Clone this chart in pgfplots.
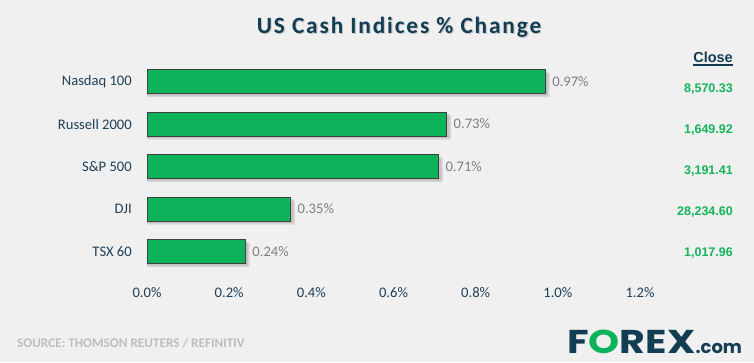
\documentclass[border=0pt]{standalone}
\usepackage{pgfplots}
\pgfplotsset{compat=1.18}
\usepackage{fontspec}
\setmainfont{Carlito}
\newfontfamily\titlefont[LetterSpace=8]{Carlito}
\newfontfamily\arialfont{Liberation Sans}
\newfontfamily\logofont{Poppins}
\definecolor{bg}{HTML}{F0F0F0}
\definecolor{teal}{HTML}{123D52}
\definecolor{labteal}{HTML}{1F4057}
\definecolor{barg}{HTML}{0DB35B}
\definecolor{closeg}{HTML}{14B45A}
\definecolor{valgray}{HTML}{7F7F7F}
\definecolor{srcgray}{HTML}{BDBDBD}
\definecolor{edge}{HTML}{404040}
\pgfplotstableread{
x y
0.97 0
0.73 1
0.71 2
0.35 3
0.24 4
}\bars
\pgfplotstableread{
x y
0.976 0
0.736 1
0.716 2
0.356 3
0.246 4
}\shadowA
\pgfplotstableread{
x y
0.980 0
0.740 1
0.720 2
0.360 3
0.250 4
}\shadowB
\begin{document}
\begin{tikzpicture}[x=1pt,y=1pt]
\fill[bg] (0,0) rectangle (754,362);
% title with soft shadow
\node[text=black!35, opacity=0.5] at (400.2,333.8) {\titlefont\fontsize{23.3}{28}\selectfont\bfseries US Cash Indices \% Change};
\node[text=teal] at (399,335) {\titlefont\fontsize{23.3}{28}\selectfont\bfseries US Cash Indices \% Change};
\begin{axis}[
  at={(147pt,89.25pt)}, anchor=south west,
  scale only axis, width=493pt, height=212.5pt,
  xmin=0, xmax=1.2, ymin=-0.5, ymax=4.5,
  y dir=reverse,
  xbar, bar width=24pt,
  axis line style={draw=none},
  major tick length=0pt,
  clip=false,
  xtick={0,0.2,0.4,0.6,0.8,1.0,1.2},
  xticklabels={0.0\%,0.2\%,0.4\%,0.6\%,0.8\%,1.0\%,1.2\%},
  xticklabel style={anchor=center, yshift=-20.25pt, text=labteal, font=\fontsize{14.6}{17}\selectfont},
  ytick={0,1,2,3,4},
  yticklabels={Nasdaq 100, Russell 2000, S\&P 500, DJI, TSX 60},
  yticklabel style={anchor=east, inner sep=0pt, xshift=-15pt, text=labteal, font=\fontsize{14.6}{17}\selectfont},
]
\addplot[fill=black, draw=none, fill opacity=0.10, bar shift=-2pt] table[x=x,y=y] {\shadowA};
\addplot[fill=black, draw=none, fill opacity=0.10, bar shift=-3.5pt] table[x=x,y=y] {\shadowB};
\addplot[fill=barg, draw=edge, line width=1pt, bar shift=0pt,
  point meta=x,
  nodes near coords={\pgfmathprintnumber[fixed,fixed zerofill,precision=2]{\pgfplotspointmeta}\%},
  nodes near coords align={horizontal},
  every node near coord/.append style={text=valgray, font=\fontsize{14.6}{17}\selectfont, anchor=west, xshift=3pt, /pgf/number format/assume math mode=true},
  ] table[x=x,y=y] {\bars};
\end{axis}
% Close column
\node[anchor=south east, inner sep=0pt, text=teal] (cl) at (733,299) {\arialfont\bfseries\fontsize{14.5}{17}\selectfont Close};
\draw[teal, line width=1.8pt] ([yshift=-2pt]cl.south west) -- ([yshift=-2pt]cl.south east);
\node[anchor=east, inner sep=0pt, text=closeg] at (733,273) {\arialfont\bfseries\fontsize{12.5}{15}\selectfont 8,570.33};
\node[anchor=east, inner sep=0pt, text=closeg] at (733,232) {\arialfont\bfseries\fontsize{12.5}{15}\selectfont 1,649.92};
\node[anchor=east, inner sep=0pt, text=closeg] at (733,191) {\arialfont\bfseries\fontsize{12.5}{15}\selectfont 3,191.41};
\node[anchor=east, inner sep=0pt, text=closeg] at (733,150) {\arialfont\bfseries\fontsize{12.5}{15}\selectfont 28,234.60};
\node[anchor=east, inner sep=0pt, text=closeg] at (733,109) {\arialfont\bfseries\fontsize{12.5}{15}\selectfont 1,017.96};
% source
\node[anchor=west, inner sep=0pt, text=srcgray] at (17,19) {\bfseries\fontsize{13.2}{15}\selectfont SOURCE: THOMSON REUTERS / REFINITIV};
% logo
\node[anchor=base west, inner sep=0pt] at (567,9) {\logofont\bfseries\fontsize{33}{38}\selectfont\scalebox{1.2}[1]{\textcolor{teal}{F}\textcolor{barg}{O}\textcolor{teal}{REX}}\fontsize{18}{20}\selectfont\textcolor{teal}{.com}};
\end{tikzpicture}
\end{document}
